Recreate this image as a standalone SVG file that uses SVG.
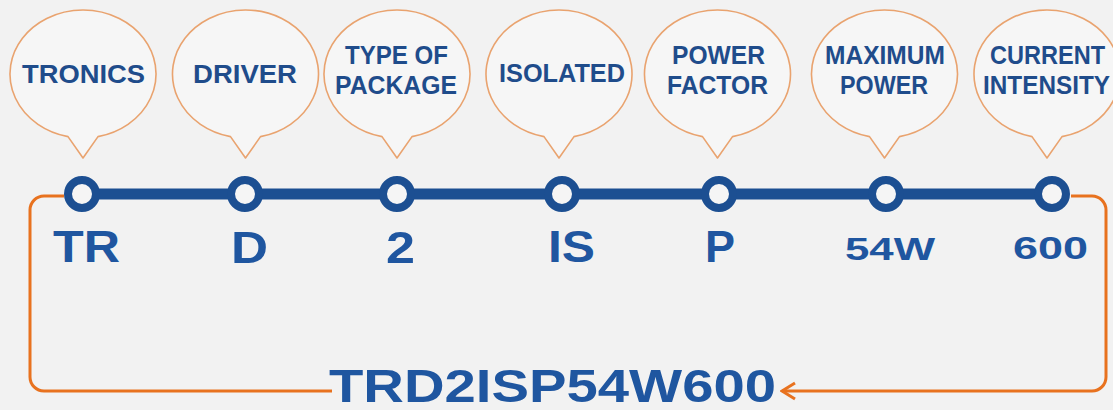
<svg xmlns="http://www.w3.org/2000/svg" width="1113" height="410" viewBox="0 0 1113 410">
<defs>
<style>
.bub{fill:#f6f6f6;stroke:#e9a36f;stroke-width:1.6;stroke-linejoin:round}
.bt{font-family:"Liberation Sans",Arial,sans-serif;font-weight:bold;font-size:25px;fill:#1f4c8b}
.code{font-family:"Liberation Sans",Arial,sans-serif;font-weight:bold;font-size:45px;fill:#1f56a0}
.code2{font-family:"Liberation Sans",Arial,sans-serif;font-weight:bold;font-size:31px;fill:#1f56a0}
.node{fill:#f5f5f5;stroke:#1c4f92;stroke-width:8}
.loop{fill:none;stroke:#e8721f;stroke-width:3;stroke-linejoin:round}
</style>
<marker id="chev" viewBox="0 0 20 20" refX="18" refY="10" markerWidth="20" markerHeight="20" markerUnits="userSpaceOnUse" orient="auto">
<path d="M5,2 L18,10 L5,18" fill="none" stroke="#e8721f" stroke-width="3" stroke-linejoin="miter"/>
</marker>
</defs>
<rect width="1113" height="410" fill="#f2f2f2"/>

<g id="connectors">
<line x1="82" y1="194" x2="1052" y2="194" stroke="#1c4f92" stroke-width="11"/>
<path class="loop" d="M64,196 H44 A14,14 0 0 0 30,210 V377 A14,14 0 0 0 44,391 H332"/>
<path class="loop" d="M1071,196 H1092 A14,14 0 0 1 1106,210 V377 A14,14 0 0 1 1092,391 H782" marker-end="url(#chev)"/>
</g>

<g id="node-tr">
<path class="bub" d="M68,136.6 A73,64 0 1 1 98,136.6 L83,158 Z"/>
<text class="bt" x="22" y="83" textLength="123" lengthAdjust="spacingAndGlyphs">TRONICS</text>
<circle class="node" cx="82" cy="194" r="14"/>
<text class="code" x="53" y="262" textLength="67" lengthAdjust="spacingAndGlyphs">TR</text>
</g>

<g id="node-d">
<path class="bub" d="M230.5,136.6 A73,64 0 1 1 260.5,136.6 L245.5,158 Z"/>
<text class="bt" x="193" y="83" textLength="104" lengthAdjust="spacingAndGlyphs">DRIVER</text>
<circle class="node" cx="245" cy="194" r="14"/>
<text class="code" x="231" y="263" textLength="37" lengthAdjust="spacingAndGlyphs">D</text>
</g>

<g id="node-2">
<path class="bub" d="M382,136.6 A73,64 0 1 1 412,136.6 L397,158 Z"/>
<text class="bt" x="345" y="64" textLength="103" lengthAdjust="spacingAndGlyphs">TYPE OF</text>
<text class="bt" x="335" y="94" textLength="122" lengthAdjust="spacingAndGlyphs">PACKAGE</text>
<circle class="node" cx="397" cy="194" r="14"/>
<text class="code" x="386" y="263" textLength="29" lengthAdjust="spacingAndGlyphs">2</text>
</g>

<g id="node-is">
<path class="bub" d="M544,136.6 A73,64 0 1 1 574,136.6 L559,158 Z"/>
<text class="bt" x="499" y="82" textLength="126" lengthAdjust="spacingAndGlyphs">ISOLATED</text>
<circle class="node" cx="562" cy="194" r="14"/>
<text class="code" x="548" y="262" textLength="47" lengthAdjust="spacingAndGlyphs">IS</text>
</g>

<g id="node-p">
<path class="bub" d="M702.5,136.6 A73,64 0 1 1 732.5,136.6 L717.5,158 Z"/>
<text class="bt" x="672" y="64" textLength="93" lengthAdjust="spacingAndGlyphs">POWER</text>
<text class="bt" x="667" y="94" textLength="101" lengthAdjust="spacingAndGlyphs">FACTOR</text>
<circle class="node" cx="719" cy="194" r="14"/>
<text class="code" x="705" y="262" textLength="30" lengthAdjust="spacingAndGlyphs">P</text>
</g>

<g id="node-54w">
<path class="bub" d="M869.5,136.6 A73,64 0 1 1 899.5,136.6 L884.5,158 Z"/>
<text class="bt" x="825" y="64" textLength="120" lengthAdjust="spacingAndGlyphs">MAXIMUM</text>
<text class="bt" x="840" y="94" textLength="88" lengthAdjust="spacingAndGlyphs">POWER</text>
<circle class="node" cx="886" cy="194" r="14"/>
<text class="code2" x="845" y="260" textLength="90" lengthAdjust="spacingAndGlyphs">54W</text>
</g>

<g id="node-600">
<path class="bub" d="M1032,136.6 A73,64 0 1 1 1062,136.6 L1047,158 Z"/>
<text class="bt" x="990" y="64" textLength="115" lengthAdjust="spacingAndGlyphs">CURRENT</text>
<text class="bt" x="983" y="94" textLength="127" lengthAdjust="spacingAndGlyphs">INTENSITY</text>
<circle class="node" cx="1052" cy="194" r="14"/>
<text class="code2" x="1013" y="259" textLength="75" lengthAdjust="spacingAndGlyphs">600</text>
</g>

<g id="result">
<text class="code" style="font-size:47px" x="329" y="402" textLength="447" lengthAdjust="spacingAndGlyphs">TRD2ISP54W600</text>
</g>
</svg>
